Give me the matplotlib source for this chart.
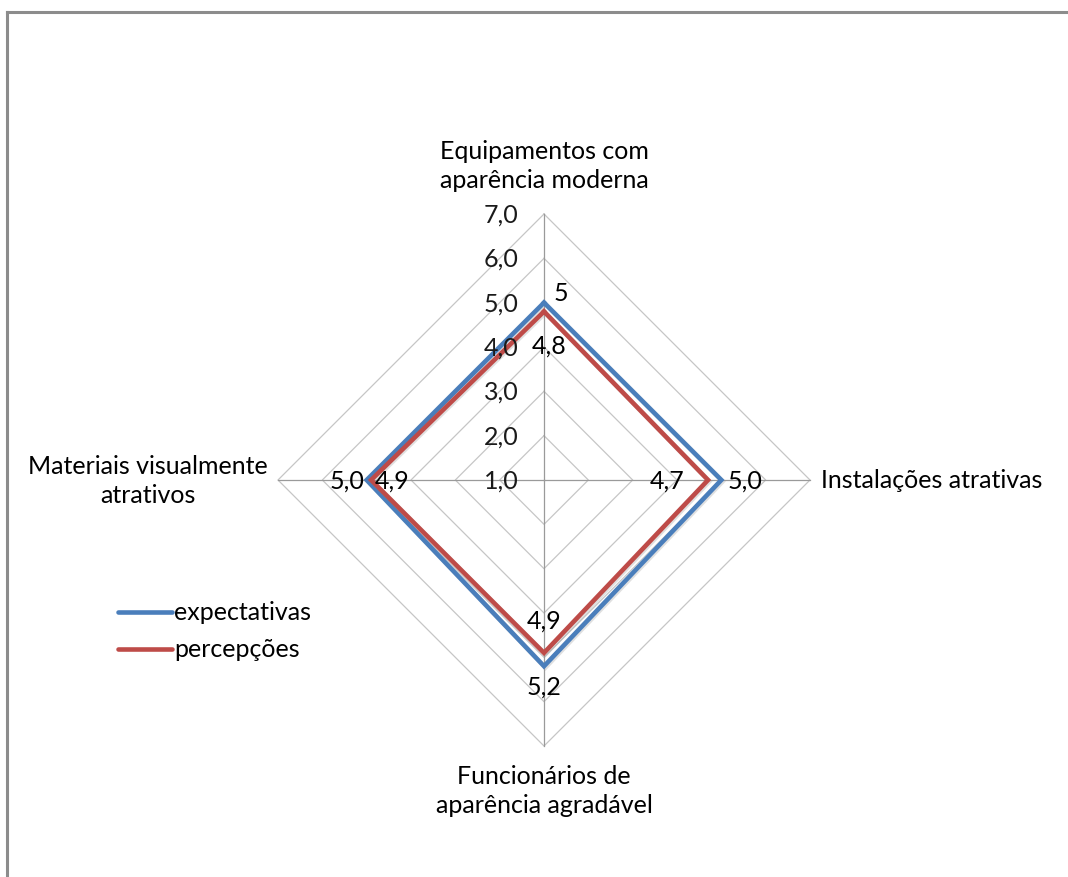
import numpy as np
import matplotlib
matplotlib.use("Agg")
import matplotlib.pyplot as plt
import matplotlib.patheffects as pe

plt.rcParams['font.family'] = ['Lato', 'DejaVu Sans']

categories = ["Equipamentos com\naparência moderna",
              "Instalações atrativas",
              "Funcionários de\naparência agradável",
              "Materiais visualmente\natrativos"]
expectativas = [5.0, 5.0, 5.2, 5.0]
percepcoes = [4.8, 4.7, 4.9, 4.9]
exp_labels = ["5", "5,0", "5,2", "5,0"]
per_labels = ["4,8", "4,7", "4,9", "4,9"]
scale_ticks = [1.0, 2.0, 3.0, 4.0, 5.0, 6.0, 7.0]
series_names = ["expectativas", "percepções"]

r_min, r_max = 1.0, 7.0
W, H = 1068, 878
cx, cy = 544, 481            # centre in pixels (from top-left)
ppu = 266 / (r_max - r_min)  # pixels per scale unit

fig = plt.figure(figsize=(W / 100, H / 100), dpi=100)
ax = fig.add_axes([0, 0, 1, 1])
ax.set_xlim(-cx / ppu, (W - cx) / ppu)
ax.set_ylim(-(H - cy) / ppu, cy / ppu)
ax.axis("off")

# spoke directions: top, right, bottom, left (clockwise)
n = len(categories)
ang = np.pi / 2 - np.arange(n) * 2 * np.pi / n
dx, dy = np.cos(ang), np.sin(ang)

def xy(vals):
    r = np.asarray(vals) - r_min
    return r * dx, r * dy

# frame lines at top and left
fig.add_artist(plt.Line2D([7 / W, 1], [1 - 13 / H, 1 - 13 / H], color="#8c8c8c", lw=2.2))
fig.add_artist(plt.Line2D([7 / W, 7 / W], [1 - 13 / H, 0], color="#8c8c8c", lw=2.2))

# polygon gridlines
for t in scale_ticks[1:]:
    gx, gy = xy([t] * n)
    ax.plot(np.append(gx, gx[0]), np.append(gy, gy[0]), color="#c6c6c6", lw=0.9, zorder=1)
# spokes
for i in range(n):
    ax.plot([0, (r_max - r_min) * dx[i]], [0, (r_max - r_min) * dy[i]],
            color="#9a9a9a", lw=0.9, zorder=1)

fs = 18
# scale labels along the top spoke
for t in scale_ticks:
    ax.text(-0.58, t - r_min, f"{t:.1f}".replace(".", ","), ha="right", va="center",
            fontsize=fs, color="#1a1a1a", zorder=5)

shadow = [pe.SimpleLineShadow(offset=(1.0, -1.0), shadow_color="#999999", alpha=0.3),
          pe.Normal()]
colors = ["#4a7ebb", "#be4b48"]
for vals, col, name in zip([expectativas, percepcoes], colors, series_names):
    px, py = xy(vals)
    ax.plot(np.append(px, px[0]), np.append(py, py[0]), color=col, lw=3.3,
            solid_joinstyle="miter", path_effects=shadow, zorder=3, label=name)

# data labels
u = 1 / ppu
ex, ey = xy(expectativas)
qx, qy = xy(percepcoes)
ax.text(ex[0] + 10 * u, ey[0] + 10 * u, exp_labels[0], ha="left", va="center", fontsize=fs, zorder=5)
ax.text(qx[0] + 5 * u, qy[0] - 34 * u, per_labels[0], ha="center", va="center", fontsize=fs, zorder=5)
ax.text(ex[1] + 6 * u, ey[1], exp_labels[1], ha="left", va="center", fontsize=fs, zorder=5)
ax.text(qx[1] - 24 * u, qy[1], per_labels[1], ha="right", va="center", fontsize=fs, zorder=5)
ax.text(ex[2], ey[2] - 20 * u, exp_labels[2], ha="center", va="center", fontsize=fs, zorder=5)
ax.text(qx[2], qy[2] + 33 * u, per_labels[2], ha="center", va="center", fontsize=fs, zorder=5)
ax.text(ex[3] - 2 * u, ey[3], exp_labels[3], ha="right", va="center", fontsize=fs, zorder=5)
ax.text(qx[3] + 4 * u, qy[3], per_labels[3], ha="left", va="center", fontsize=fs, zorder=5)

# category labels
R = r_max - r_min
ax.text(0, R + 49 * u, categories[0], ha="center", va="center", fontsize=fs, linespacing=1.3)
ax.text(R + 11 * u, 0, categories[1], ha="left", va="center", fontsize=fs)
ax.text(0, -R - 44 * u, categories[2], ha="center", va="center", fontsize=fs, linespacing=1.3)
ax.text(-R - 130 * u, 0, categories[3], ha="center", va="center", fontsize=fs, linespacing=1.3)

# legend
for k, (col, name) in enumerate(zip(colors, series_names)):
    ly = (cy - (613 + 37 * k)) * u
    ax.plot([(118 - cx) * u, (172 - cx) * u], [ly, ly], color=col, lw=3.3,
            solid_capstyle="round")
    ax.text((174 - cx) * u, ly, name, ha="left", va="center", fontsize=fs)

fig.savefig("out.png", dpi=100, facecolor="white")
